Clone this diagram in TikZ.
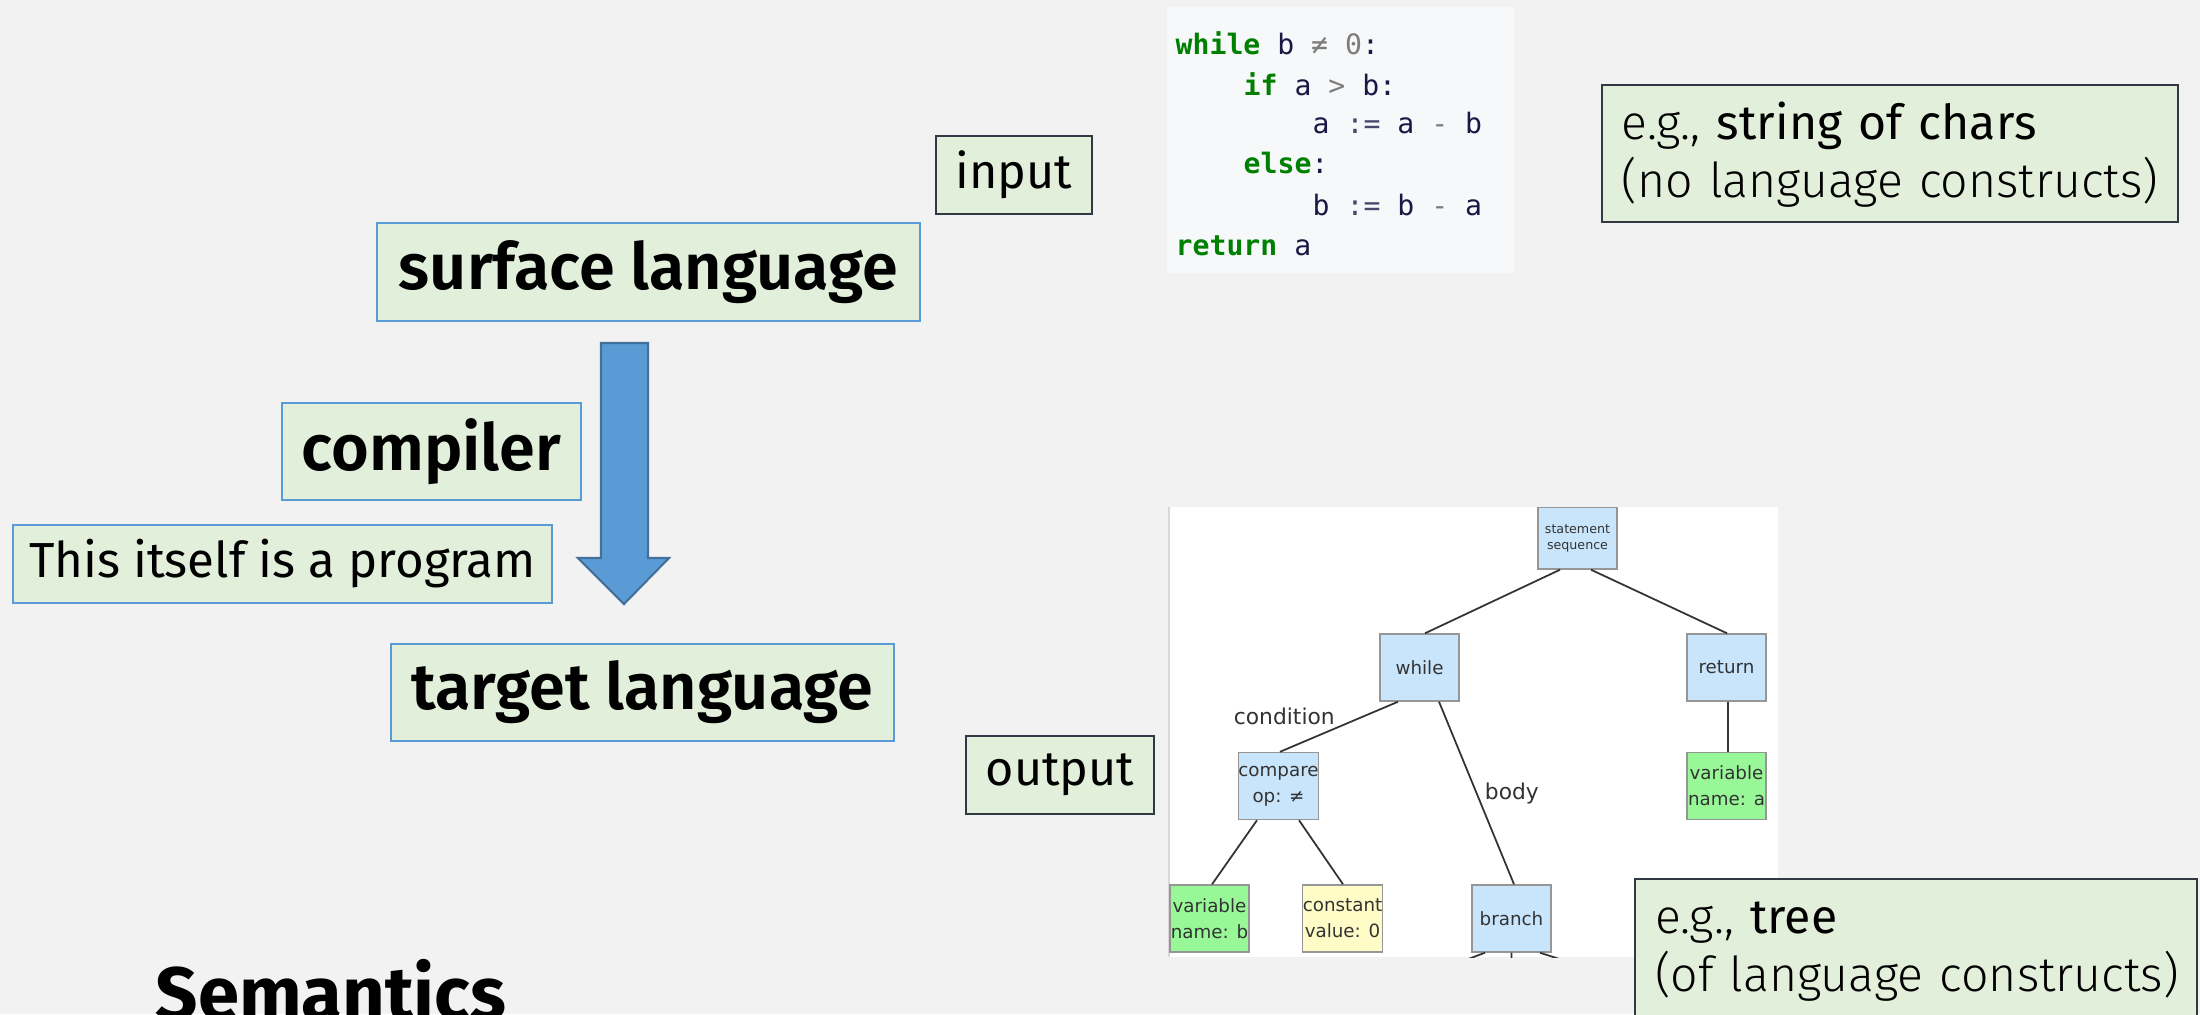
\documentclass[tikz,border=0pt]{standalone}
\usepackage{fontspec}
\setmainfont{Fira Sans}
\newfontfamily\lightfont{Fira Sans Light}
\newfontfamily\medfont{Fira Sans SemiBold}
\newfontfamily\codefont{DejaVu Sans Mono}
\newfontfamily\treefont{DejaVu Sans}
\usetikzlibrary{calc}
\definecolor{bg_gray}{RGB}{242,242,242}
\definecolor{box_green}{RGB}{226,239,218}
\definecolor{box_blue}{RGB}{91,155,213}
\definecolor{box_dark}{RGB}{50,56,68}
\definecolor{arrow_edge}{RGB}{65,113,156}
\definecolor{code_bg}{RGB}{246,248,250}
\definecolor{kw_green}{RGB}{0,128,0}
\definecolor{code_var}{RGB}{25,25,70}
\definecolor{code_op}{RGB}{125,125,125}
\definecolor{tree_blue}{RGB}{201,229,251}
\definecolor{tree_green}{RGB}{152,248,152}
\definecolor{tree_yellow}{RGB}{255,252,200}
\definecolor{tree_edge}{RGB}{150,150,150}
\definecolor{tree_text}{RGB}{51,51,51}
\tikzstyle{lang}=[fill=box_green,draw=box_blue,line width=0.6pt,inner sep=0pt,
  font=\medfont\fontsize{18.4}{22}\selectfont]
\tikzstyle{note}=[fill=box_green,draw=box_dark,line width=0.6pt,inner sep=0pt,
  font=\fontsize{13.8}{16}\selectfont]
\tikzstyle{eg}=[fill=box_green,draw=box_dark,line width=0.6pt,inner xsep=0.2cm,
  inner ysep=0pt,align=left,font=\lightfont\fontsize{13.7}{16.5}\selectfont]
\tikzstyle{code}=[anchor=base west,inner sep=0pt,font=\codefont\fontsize{8}{11}\selectfont]
\tikzstyle{tn}=[fill=tree_blue,draw=tree_edge,line width=0.4pt,inner sep=0pt,
  minimum width=0.79cm,minimum height=0.67cm,align=center,text=tree_text,
  font=\treefont\fontsize{5.2}{7.4}\selectfont]
\tikzstyle{tg}=[tn,fill=tree_green]
\tikzstyle{ty}=[tn,fill=tree_yellow]
\tikzstyle{lbl}=[inner sep=0pt,text=tree_text,font=\treefont\fontsize{6.2}{7}\selectfont]
\tikzstyle{tline}=[draw=tree_text,line width=0.5pt]
\tikzstyle{none}=[]

\begin{document}
\begin{tikzpicture}[x=0.01cm,y=-0.01cm]
    \useasboundingbox (0,0) rectangle (2200,1014);
    \fill[bg_gray] (0,0) rectangle (2200,1014);
    \clip (0,0) rectangle (2200,1014);
            % compiler pipeline
            \node [style=lang,minimum width=5.43cm,minimum height=0.98cm] (surface) at (648.5,272) {surface language};
            \node [style=lang,minimum width=2.99cm,minimum height=0.97cm] (compiler) at (431.5,451.5) {compiler};
            \node [style=lang,minimum width=5.39cm,minimum height=0.78cm,font=\fontsize{14}{17}\selectfont] (prog) at (282.5,564) {This itself is a program};
            \node [style=lang,minimum width=5.03cm,minimum height=0.97cm] (target) at (642.5,692.5) {target language};
            \filldraw[fill=box_blue,draw=arrow_edge,line width=0.6pt]
              (601,343) -- (648,343) -- (648,558) -- (669,558) -- (624,604) -- (578,558) -- (601,558) -- cycle;
            \node [style=note,minimum width=1.56cm,minimum height=0.78cm] (input) at (1014,175) {input};
            \node [style=note,minimum width=1.88cm,minimum height=0.78cm] (output) at (1060,775) {output};
            \node [anchor=base west,inner sep=0pt,font=\bfseries\fontsize{21.1}{25}\selectfont] (sem) at (155,1019) {Semantics};
            % source code
            \fill[code_bg] (1167,7) rectangle (1514,273);
            \node [style=code] (c1) at (1175,54) {\textcolor{kw_green}{\bfseries while} \textcolor{code_var}{b} \textcolor{code_op}{≠} \textcolor{code_op}{0}\textcolor{code_var}{:}};
            \node [style=code] (c2) at (1243,95) {\textcolor{kw_green}{\bfseries if} \textcolor{code_var}{a} \textcolor{code_op}{>} \textcolor{code_var}{b:}};
            \node [style=code] (c3) at (1312,133) {\textcolor{code_var}{a} \textcolor{code_var!80}{:=} \textcolor{code_var}{a} \textcolor{code_op}{-} \textcolor{code_var}{b}};
            \node [style=code] (c4) at (1243,173) {\textcolor{kw_green}{\bfseries else}\textcolor{code_var}{:}};
            \node [style=code] (c5) at (1312,215) {\textcolor{code_var}{b} \textcolor{code_var!80}{:=} \textcolor{code_var}{b} \textcolor{code_op}{-} \textcolor{code_var}{a}};
            \node [style=code] (c6) at (1175,255) {\textcolor{kw_green}{\bfseries return} \textcolor{code_var}{a}};
            \node [style=eg,text width=5.36cm,minimum height=1.37cm] (eg1) at (1890,153.5)
              {\mbox{\strut e.g., {\normalfont string of chars}}\\\mbox{(no language constructs)\rule[-0.096cm]{0pt}{0.2cm}}};
            % syntax tree
            \fill[white] (1169,507) rectangle (1778,957);
            \draw[black!15] (1169,507) -- (1169,957);
            \begin{scope}
            \clip (1169,507) rectangle (1778,957);
            \node [style=tn,minimum height=0.62cm,font=\treefont\fontsize{3.6}{4.6}\selectfont] (0) at (1577.5,538) {statement\\sequence};
            \node [style=tn] (1) at (1419.5,667.5) {while};
            \node [style=tn] (2) at (1726.5,667.5) {return};
            \node [style=tn] (3) at (1278.5,786) {compare\\op: ≠};
            \node [style=tg] (4) at (1726.5,786) {variable\\name: a};
            \node [style=tg] (5) at (1209.5,918.5) {variable\\name: b};
            \node [style=ty] (6) at (1342.5,918.5) {constant\\value: 0};
            \node [style=tn] (7) at (1511.5,918.5) {branch};
            \coordinate (8) at (1420,977);
            \coordinate (9) at (1511,985);
            \coordinate (10) at (1600,972);
            \draw [style=tline] ([xshift=-0.175cm]0.south) to ([xshift=0.055cm]1.north);
            \draw [style=tline] ([xshift=0.135cm]0.south) to ([xshift=0.005cm]2.north);
            \draw [style=tline] ([xshift=-0.215cm]1.south) to node[pos=0.3,anchor=east,xshift=-0.27cm,style=lbl] {condition} ([xshift=0.015cm]3.north);
            \draw [style=tline] ([xshift=0.195cm]1.south) to node[pos=0.5,anchor=west,xshift=0.075cm,style=lbl] {body} ([xshift=0.025cm]7.north);
            \draw [style=tline] ([xshift=0.015cm]2.south) to ([xshift=0.015cm]4.north);
            \draw [style=tline] ([xshift=-0.215cm]3.south) to ([xshift=0.025cm]5.north);
            \draw [style=tline] ([xshift=0.205cm]3.south) to ([xshift=0.005cm]6.north);
            \draw [style=tline] ([xshift=-0.265cm]7.south) to (8);
            \draw [style=tline] (7.south) to (9);
            \draw [style=tline] ([xshift=0.285cm]7.south) to (10);
            \end{scope}
            \node [style=eg,text width=5.22cm,inner ysep=0.134cm,anchor=north west] (eg2) at (1634,878)
              {\mbox{\strut e.g., {\normalfont tree}}\\\mbox{(of language constructs)}\\\strut};
    \end{tikzpicture}
\end{document}
